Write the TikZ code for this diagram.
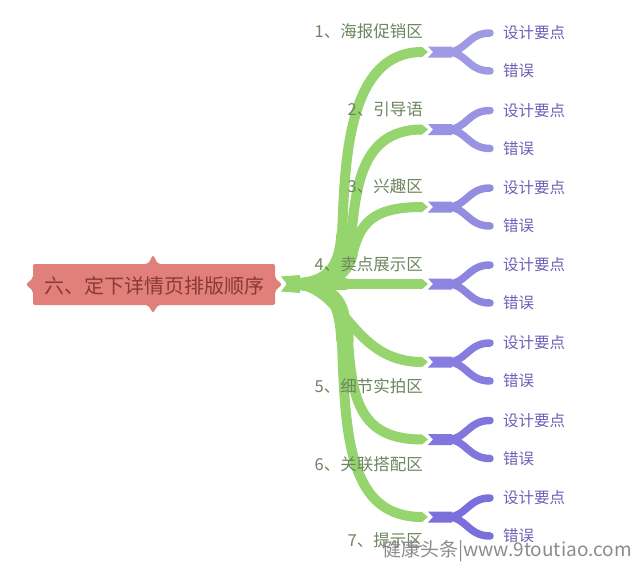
\documentclass[tikz,border=0pt]{standalone}
\usepackage{fontspec}
\setmainfont{Noto Sans CJK SC}
\usetikzlibrary{calc}
\definecolor{rootfill}{HTML}{E1807A}
\definecolor{roottext}{HTML}{8A3934}
\definecolor{grn}{HTML}{96D46E}
\definecolor{grntext}{HTML}{6E8660}
\definecolor{prpA}{HTML}{A09AE4}
\definecolor{prpB}{HTML}{7B6FDC}
\definecolor{prptext}{HTML}{6C62B8}
\definecolor{wmcol}{HTML}{8C8C8C}
\begin{document}
\begin{tikzpicture}[x=1pt,y=-1pt,
  rootlabel/.style={font=\fontsize{20}{24}\selectfont, text=roottext, inner sep=0},
  catlabel/.style={font=\fontsize{16.5}{20}\selectfont, text=grntext, anchor=east, inner sep=0},
  leaflabel/.style={font=\fontsize{15.5}{18}\selectfont, text=prptext, anchor=west, inner sep=0},
  gbranch/.style={draw=grn, line width=10pt, line cap=butt},
  gthick/.style={draw=grn, line width=11.5pt, line cap=round},
  pbranch/.style={draw=prpk, line width=7.5pt, line cap=round},
  wmlabel/.style={font=\fontsize{19}{22}\selectfont, text=wmcol, anchor=west, inner sep=0},
]
\useasboundingbox (0,0) rectangle (640,562);
\fill[white] (0,0) rectangle (640,562);

% root shape
\fill[rootfill, rounded corners=2pt] (33,264) -- (148,264) -- (153,255) -- (158,264) -- (275,264)
  -- (275,278) -- (282,284.5) -- (275,291) -- (275,305) -- (158,305) -- (153,313) -- (148,305)
  -- (33,305) -- (33,291) -- (26,284.5) -- (33,278) -- cycle;
\node[rootlabel] (root) at (154,286) {六、定下详情页排版顺序};
\coordinate (O) at (292,284);

% green end points
\coordinate (g1) at (422,52);
\coordinate (g2) at (422,129.5);
\coordinate (g3) at (422,207);
\coordinate (g4) at (422,284);
\coordinate (g5) at (422,362);
\coordinate (g6) at (422,439.5);
\coordinate (g7) at (422,517);

% green start wedge
\fill[grn] (281,276.5) -- (300,275) -- (300,293) -- (281,291.5) -- (287,284) -- cycle;

% green branches
\draw[gthick] (O) .. controls (325,284) and (340,270) .. (342,235);
\draw[gbranch] (O) .. controls (325,284) and (340,270) .. (342,235) .. controls (345,170) and (345,52) .. (g1);
\draw[gthick] (O) .. controls (325,284) and (345,275) .. (350,245);
\draw[gbranch] (O) .. controls (325,284) and (345,275) .. (350,245) .. controls (356,200) and (355,129.5) .. (g2);
\draw[gthick] (O) .. controls (330,284) and (345,278) .. (352,255);
\draw[gbranch] (O) .. controls (330,284) and (345,278) .. (352,255) .. controls (360,225) and (370,207) .. (g3);
\draw[gthick] (O) -- (345,284);
\draw[gbranch] (O) -- (g4);
\draw[gthick] (O) .. controls (325,284) and (338,295) .. (343,312);
\draw[gbranch] (O) .. controls (345,284) and (350,362) .. (g5);
\draw[gthick] (O) .. controls (330,284) and (345,300) .. (348,340);
\draw[gbranch] (O) .. controls (330,284) and (345,300) .. (348,340) .. controls (352,400) and (360,439.5) .. (g6);
\draw[gthick] (O) .. controls (325,284) and (340,295) .. (342,340);
\draw[gbranch] (O) .. controls (325,284) and (340,295) .. (342,340) .. controls (345,440) and (350,517) .. (g7);

% category labels
\node[catlabel] (l1) at (423,31) {1、海报促销区};
\node[catlabel] (l2) at (423,109) {2、引导语};
\node[catlabel] (l3) at (423,186) {3、兴趣区};
\node[catlabel] (l4) at (423,264) {4、卖点展示区};
\node[catlabel] (l5) at (423,386) {5、细节实拍区};
\node[catlabel] (l6) at (423,464) {6、关联搭配区};
\node[catlabel] (l7) at (423,540) {7、提示区};

% purple forks and leaves
\foreach \k/\y/\pc in {1/52/0,2/129.5/17,3/207/33,4/284/50,5/362/67,6/439.5/83,7/517/100}{
  \colorlet{prpk}{prpB!\pc!prpA}
  \fill[grn] (422,\y-5) -- (428,\y) -- (422,\y+5) -- cycle;
  \fill[prpk] (428,\y-5.5) -- (452,\y-5.5) -- (452,\y+5.5) -- (428,\y+5.5) -- (433,\y) -- cycle;
  \coordinate (p\k) at (448,\y);
  \node[leaflabel] (a\k) at (503,\y-19) {设计要点};
  \node[leaflabel] (b\k) at (503,\y+19) {错误};
  \draw[pbranch] (p\k) .. controls +(18,0) and +(-22,0) .. ($(a\k.west)+(-13,0)$);
  \draw[pbranch] (p\k) .. controls +(18,0) and +(-22,0) .. ($(b\k.west)+(-13,0)$);
}

% watermark
\node[wmlabel] (wm) at (382,551) {健康头条|www.9toutiao.com};
\end{tikzpicture}
\end{document}
